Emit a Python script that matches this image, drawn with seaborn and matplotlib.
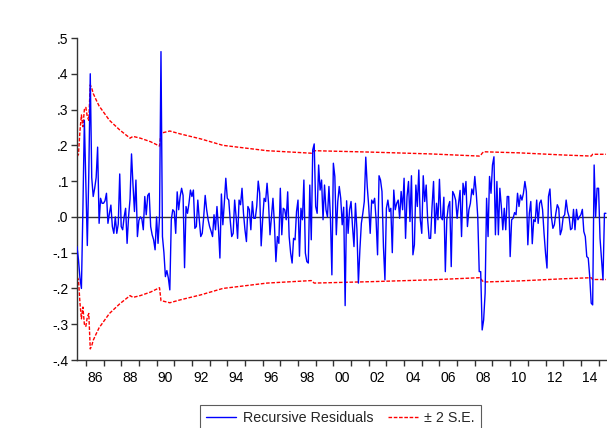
import numpy as np
import pandas as pd
import matplotlib
matplotlib.use("Agg")
import matplotlib.pyplot as plt
from matplotlib.lines import Line2D
import seaborn as sns

# ---------------- data (monthly recursive residuals, 1985M07 - 2015M06) ----------------
start_year = 1985
start_month = 7

resid_1985_1991 = [
    -0.083, -0.12, -0.17, -0.20, 0.02, 0.27, 0.10, -0.08, 0.12, 0.40,
    0.11, 0.057, 0.08, 0.11, 0.195, -0.018, 0.052, 0.038, 0.038, 0.045,
    0.066, -0.018, 0.01, 0.033, -0.027, -0.046, 0.0, -0.046, -0.02, 0.12,
    -0.027, -0.036, 0.0, 0.024, -0.074, 0.0, 0.05, 0.176, 0.09, 0.015,
    0.103, -0.055, -0.01, 0.0, -0.005, -0.036, 0.057, 0.006, 0.06, 0.066,
    -0.027, -0.05, -0.064, -0.092, 0.0, -0.074, 0.0, 0.462, -0.055, -0.10,
    -0.167, -0.15, -0.171, -0.204, -0.008, 0.02, 0.015, -0.046, 0.07, 0.02,
    0.057, 0.08]
resid_1991_1997 = [
    0.06, -0.142, 0.029, 0.01, 0.038, 0.075, 0.057, 0.075, -0.032, -0.027,
    0.047, -0.008, -0.055, -0.046, 0.0, 0.06, 0.02, -0.008, -0.027, -0.04,
    -0.055, 0.006, -0.036, 0.029, -0.03, -0.115, 0.064, -0.022, 0.04, 0.108,
    0.052, 0.047, -0.01, -0.055, -0.046, 0.047, 0.0, -0.06, 0.047, 0.034,
    0.08, 0.01, -0.036, -0.069, 0.029, 0.02, -0.036, 0.043, -0.004, -0.004,
    0.03, 0.1, 0.066, -0.081, -0.008, 0.052, 0.043, 0.094, 0.038, -0.05,
    0.0, 0.052, -0.02, -0.125, -0.055, -0.074, 0.08, -0.05, 0.024, 0.02,
    -0.008, 0.07]
resid_1997_2003 = [
    -0.055, -0.101, -0.129, -0.06, -0.064, 0.015, 0.047, -0.11, 0.024, -0.008,
    0.103, -0.101, -0.125, -0.129, 0.089, -0.064, 0.187, 0.204, 0.029, 0.01,
    0.145, 0.075, 0.103, -0.008, 0.089, 0.02, 0.0, 0.085, 0.0, -0.162,
    0.15, 0.113, -0.05, 0.043, 0.085, 0.052, -0.022, 0.027, -0.248, 0.045,
    -0.046, 0.02, 0.043, -0.027, -0.083, 0.038, -0.036, -0.185, -0.092, -0.018,
    0.01, 0.043, 0.167, 0.085, 0.029, -0.046, 0.047, 0.038, 0.052, -0.008,
    -0.106, 0.115, 0.103, 0.071, -0.083, -0.176, 0.024, 0.047, 0.015, 0.024,
    -0.1, 0.075]
resid_2003_2009 = [
    0.02, 0.038, 0.047, -0.004, 0.071, 0.02, 0.108, -0.06, 0.057, 0.099,
    -0.013, 0.115, -0.106, -0.078, 0.089, 0.029, 0.131, -0.008, -0.046, 0.115,
    0.043, 0.089, -0.008, -0.06, -0.06, 0.029, 0.099, -0.046, 0.038, -0.008,
    0.105, 0.0, -0.008, 0.055, -0.153, -0.008, 0.029, 0.043, -0.139, 0.071,
    0.062, 0.047, -0.004, 0.038, 0.074, -0.055, 0.094, 0.062, 0.099, -0.027,
    0.02, 0.038, 0.078, 0.062, 0.113, 0.066, 0.0, -0.153, -0.153, -0.316,
    -0.288, -0.213, 0.052, -0.055, 0.113, 0.066, 0.145, 0.168, -0.05, 0.099,
    -0.05, 0.08]
resid_2009_2015 = [
    0.029, -0.036, 0.024, -0.036, 0.057, 0.057, -0.111, -0.008, -0.004, 0.012,
    0.006, 0.066, 0.029, 0.061, 0.047, 0.066, 0.099, 0.071, -0.078, 0.01,
    0.043, -0.075, -0.008, -0.013, 0.047, -0.018, 0.038, 0.047, 0.02, -0.046,
    -0.101, -0.143, 0.057, 0.078, 0.0, -0.032, -0.022, 0.01, 0.034, 0.024,
    -0.05, -0.036, 0.0, 0.006, 0.047, 0.015, 0.0, -0.036, -0.032, 0.021,
    -0.036, 0.021, -0.008, 0.0, 0.006, 0.021, -0.041, -0.055, -0.111, -0.115,
    -0.167, -0.241, -0.246, 0.145, 0.0, 0.08, 0.08, -0.06, -0.12, -0.176,
    0.01, 0.01]

# +2 S.E. band, read at selected months (month offset from 1985M07)
band_month = [0, 1, 2, 3, 4, 5, 6, 7, 8, 9, 10, 11, 13, 15, 22, 29, 36, 38, 43, 50,
              56, 57, 63, 70, 84, 99, 129, 159, 161, 200, 240, 273, 274, 275, 276,
              300, 330, 349, 350, 359]
band_upper = [0.168, 0.175, 0.24, 0.285, 0.252, 0.30, 0.306, 0.28, 0.27, 0.369,
              0.36, 0.345, 0.327, 0.31, 0.27, 0.243, 0.22, 0.225, 0.22, 0.21,
              0.198, 0.234, 0.24, 0.232, 0.218, 0.20, 0.185, 0.178, 0.185, 0.181,
              0.176, 0.17, 0.172, 0.178, 0.182, 0.179, 0.173, 0.17, 0.175, 0.175]

ytick_values = [0.5, 0.4, 0.3, 0.2, 0.1, 0.0, -0.1, -0.2, -0.3, -0.4]
ytick_labels = [".5", ".4", ".3", ".2", ".1", ".0", "-.1", "-.2", "-.3", "-.4"]
xtick_years = list(range(1986, 2015, 2))
xtick_labels = ["86", "88", "90", "92", "94", "96", "98", "00", "02", "04",
                "06", "08", "10", "12", "14"]
legend_labels = ["Recursive Residuals", "\u00b1 2 S.E."]

# ---------------- build frames ----------------
residuals = (resid_1985_1991 + resid_1991_1997 + resid_1997_2003
             + resid_2003_2009 + resid_2009_2015)
t0 = start_year + (start_month - 1) / 12
df = pd.DataFrame({"t": t0 + np.arange(len(residuals)) / 12, "resid": residuals})
band = pd.DataFrame({"t": t0 + np.array(band_month) / 12,
                     "upper": band_upper,
                     "lower": [-v for v in band_upper]})

# ---------------- style ----------------
sns.set_style("white")
plt.rcParams["font.family"] = ["Liberation Sans", "DejaVu Sans"]

W, H = 607, 428
fig = plt.figure(figsize=(W / 100, H / 100), dpi=100)
ax = fig.add_axes([77 / W, 1 - 360 / H, 530 / W, 322 / H])

ax.axhline(0, color="#333333", lw=1.0, zorder=1)
sns.lineplot(data=df, x="t", y="resid", ax=ax, color="#0000FF", lw=1.0,
             errorbar=None, zorder=3)
dash = (0, (2.6, 1.2))
sns.lineplot(data=band, x="t", y="upper", ax=ax, color="#FF0000", lw=1.0,
             linestyle=dash, errorbar=None, zorder=2)
sns.lineplot(data=band, x="t", y="lower", ax=ax, color="#FF0000", lw=1.0,
             linestyle=dash, errorbar=None, zorder=2)

ax.set_xlim(t0, t0 + 530 / 17.68)
ax.set_ylim(-0.4, 0.5)
ax.set_xlabel("")
ax.set_ylabel("")

ax.set_yticks(ytick_values)
ax.set_yticklabels(ytick_labels)
ax.set_xticks(np.arange(1986, 2016))
ax.set_xticklabels([])
ax.set_xticks([y + 0.5 for y in xtick_years], minor=True)
ax.set_xticklabels(xtick_labels, minor=True)

ax.tick_params(axis="y", which="major", left=True, length=4, width=1,
               color="#333333", direction="out", pad=2, labelsize=10,
               labelcolor="black")
ax.tick_params(axis="x", which="major", bottom=True, length=4.5, width=1,
               color="#333333", direction="out")
ax.tick_params(axis="x", which="minor", bottom=True, length=0, pad=8,
               labelsize=10, labelcolor="black")

for s in ["top", "right"]:
    ax.spines[s].set_visible(False)
for s in ["left", "bottom"]:
    ax.spines[s].set_color("#333333")
    ax.spines[s].set_linewidth(1.0)

handles = [Line2D([], [], color="#0000FF", lw=1.0),
           Line2D([], [], color="#FF0000", lw=1.0, linestyle=dash)]
leg = fig.legend(handles, legend_labels, loc="upper left",
                 bbox_to_anchor=(200 / W, 1 - 405 / H),
                 bbox_transform=fig.transFigure, ncol=2, frameon=True,
                 fancybox=False, edgecolor="#333333", fontsize=10.3,
                 handlelength=2.1, handletextpad=0.45, columnspacing=1.0,
                 borderpad=0.45, borderaxespad=0)
leg.get_frame().set_linewidth(0.8)

fig.savefig("out.png", dpi=100)
